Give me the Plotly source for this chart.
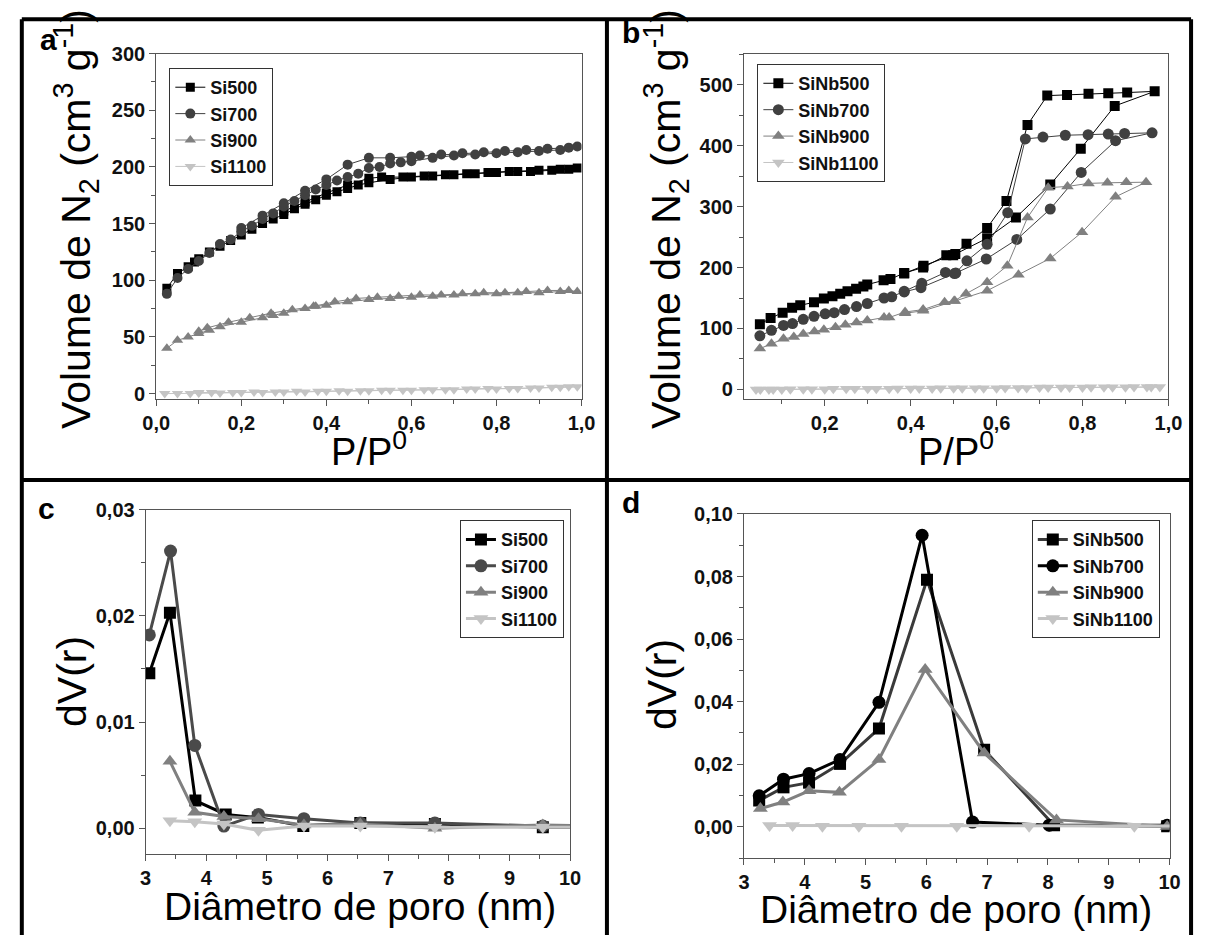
import plotly.graph_objects as go

W, H = 1208, 940

# ---------------- Panel a: Si isotherms ----------------
a_si500_x = [0.025,0.05,0.075,0.09,0.1,0.125,0.15,0.175,0.2,0.225,0.25,0.275,0.3,0.325,0.35,0.375,0.4,0.425,0.45,0.475,0.5,0.55,0.6,0.65,0.7,0.75,0.8,0.85,0.9,0.95,0.99,
             0.97,0.93,0.88,0.83,0.78,0.73,0.68,0.63,0.58,0.53,0.5,0.45,0.4,0.35,0.3]
a_si500_y = [93,106,112,116,119,125,130,135,140,145,150,154,158,163,167,171,175,178,181,184,186,189,191,192,193,194,195,196,197,198,199,
             198,197,196,196,195,194,193,192,191,191,190,184,177,169,161]
a_si700_x = [0.025,0.05,0.075,0.1,0.125,0.15,0.175,0.2,0.225,0.25,0.275,0.3,0.325,0.35,0.375,0.4,0.425,0.45,0.475,0.5,0.525,0.55,0.575,0.6,0.65,0.7,0.75,0.8,0.85,0.9,0.95,0.99,
             0.97,0.92,0.87,0.82,0.77,0.72,0.67,0.62,0.6,0.55,0.5,0.45,0.4,0.35,0.3,0.25,0.2]
a_si700_y = [88,102,110,117,124,132,136,143,148,154,159,165,170,175,180,184,188,191,194,199,200,203,204,205,208,210,211,212,213,214,215,218,
             217,216,215,214,213,212,211,210,209,208,208,202,189,179,168,157,146]
a_si900_x = [0.025,0.05,0.075,0.1,0.125,0.15,0.2,0.25,0.275,0.3,0.35,0.375,0.4,0.45,0.5,0.55,0.6,0.65,0.7,0.75,0.8,0.85,0.9,0.95,0.99,
             0.97,0.92,0.87,0.82,0.77,0.72,0.67,0.62,0.57,0.52,0.47,0.42,0.37,0.32,0.27,0.22,0.17,0.12,0.1]
a_si900_y = [40,47,50,53,56,59,63,67,69,71,75,77,78,81,83,84,85,86,87,88,88,89,89,90,90,
             91,91,90,89,89,88,87,87,86,85,84,81,77,74,71,67,63,58,55]
a_si1100_x = [0.02,0.05,0.08,0.1,0.15,0.2,0.25,0.3,0.35,0.4,0.45,0.5,0.55,0.6,0.65,0.7,0.75,0.8,0.85,0.9,0.95,0.99,
              0.97,0.93,0.88,0.83,0.78,0.73,0.68,0.63,0.58,0.53,0.48,0.43,0.38,0.33,0.28,0.23,0.18,0.13,0.1]
a_si1100_y = [0,0,0,0.5,0.5,1,1,1.5,1.5,2,2,2.5,3,3,3.5,3.5,4,4,4.5,5,5.5,6,
              6,5.5,5,4.5,4.5,4,3.5,3.5,3,3,2.5,2.5,2,2,1.5,1.5,1,1,1]

# ---------------- Panel b: SiNb isotherms ----------------
b_sinb500_x = [0.049,0.074,0.102,0.124,0.143,0.175,0.198,0.218,0.236,0.253,0.273,0.29,0.299,0.337,0.353,0.385,0.429,0.483,0.499,0.53,0.578,0.623,0.672,0.718,0.764,0.814,0.86,0.904,0.968,
               0.875,0.796,0.725,0.645,0.578,0.504,0.43,0.385]
b_sinb500_y = [107,117,126,134,138,143,149,153,157,161,165,169,172,179,181,191,200,220,220,239,265,309,434,482,483,485,486,487,489,
               465,395,336,282,248,222,203,190]
b_sinb700_x = [0.049,0.076,0.104,0.125,0.15,0.175,0.201,0.222,0.246,0.274,0.299,0.338,0.356,0.385,0.426,0.481,0.505,0.531,0.578,0.626,0.667,0.708,0.76,0.813,0.86,0.898,0.962,
               0.877,0.797,0.725,0.647,0.576,0.502,0.424,0.385]
b_sinb700_y = [88,97,105,108,115,120,124,126,131,136,141,150,152,161,174,192,191,211,238,290,411,414,417,418,419,420,421,
               408,356,296,246,214,190,167,160]
b_sinb900_x = [0.049,0.076,0.104,0.128,0.15,0.176,0.198,0.225,0.248,0.274,0.299,0.338,0.35,0.387,0.429,0.479,0.501,0.529,0.578,0.625,0.672,0.72,0.765,0.814,0.858,0.902,0.948,
               0.877,0.799,0.725,0.651,0.578,0.503,0.429,0.387]
b_sinb900_y = [67,75,83,86,91,95,98,102,106,110,113,118,118,127,131,143,145,157,176,203,282,331,333,338,339,340,340,
               316,258,215,188,162,145,129,125]
b_sinb1100_x = [0.04,0.07,0.1,0.15,0.2,0.25,0.3,0.35,0.4,0.45,0.5,0.55,0.6,0.65,0.7,0.75,0.8,0.85,0.9,0.95,0.98,
                0.96,0.92,0.87,0.82,0.77,0.72,0.67,0.62,0.57,0.52,0.47,0.42,0.37,0.32,0.27,0.22,0.17,0.12,0.08,0.05]
b_sinb1100_y = [0,0,0,0.5,0.5,1,1,1,1.5,1.5,2,2,2,2.5,3,3,3,3.5,3.5,4,4,
                4,4,3.5,3.5,3,3,2.5,2.5,2,2,2,1.5,1.5,1,1,1,0.5,0.5,0,0]

# ---------------- Panel c: Si pore size distribution ----------------
c_si500_x = [3.06,3.40,3.82,4.32,4.85,5.60,6.54,7.77,9.55,11.5]
c_si500_y = [0.0146,0.0203,0.0026,0.0013,0.0010,0.0002,0.0005,0.0004,0.0001,0.0001]
c_si700_x = [3.06,3.41,3.81,4.29,4.86,5.61,6.54,7.77,9.55,11.5]
c_si700_y = [0.0182,0.0261,0.0078,0.0002,0.0013,0.0009,0.0005,0.0005,0.0002,0.0002]
c_si900_x = [3.40,3.81,4.29,4.86,5.61,6.54,7.77,9.55,11.5]
c_si900_y = [0.0063,0.0015,0.0011,0.0009,0.0003,0.0004,0.0000,0.0003,0.0001]
c_si1100_x = [3.40,3.81,4.29,4.86,5.61,6.54,7.77,9.55,11.5]
c_si1100_y = [0.0007,0.0006,0.0004,-0.0002,0.0002,0.0002,0.0001,0.0001,0.0001]

# ---------------- Panel d: SiNb pore size distribution ----------------
d_sinb500_x = [3.25,3.65,4.07,4.58,5.22,6.01,6.95,8.10,9.96]
d_sinb500_y = [0.0084,0.0126,0.0141,0.0201,0.0314,0.0790,0.0246,0.0005,0.0002]
d_sinb700_x = [3.25,3.65,4.07,4.58,5.22,5.93,6.76,8.02,9.96]
d_sinb700_y = [0.0099,0.0152,0.0170,0.0215,0.0398,0.0932,0.0015,0.0005,0.0005]
d_sinb900_x = [3.27,3.64,4.07,4.57,5.22,5.98,6.95,8.14,9.96]
d_sinb900_y = [0.0058,0.0079,0.0115,0.0110,0.0215,0.0503,0.0236,0.0022,0.0001]
d_sinb1100_x = [3.42,3.80,4.29,4.89,5.59,6.50,7.69,9.42,11.5]
d_sinb1100_y = [0.0004,0.0004,0.0002,0.0002,0.0002,0.0002,0.0002,0.0002,0.0002]

FONT = "Liberation Sans, Arial, sans-serif"
C1, C2, C3, C4 = "#000000", "#404040", "#808080", "#c4c4c4"

fig = go.Figure()

def add(x, y, name, color, symbol, xa, ya, legend, size, lw, lcolor=None):
    fig.add_trace(go.Scatter(
        x=x, y=y, name=name, mode="lines+markers",
        xaxis=xa, yaxis=ya, legend=legend,
        line=dict(color=lcolor or color, width=lw),
        marker=dict(color=color, symbol=symbol, size=size, line=dict(width=0)),
    ))

add(a_si500_x, a_si500_y, "Si500", C1, "square", "x", "y", "legend", 9, 1)
add(a_si700_x, a_si700_y, "Si700", C2, "circle", "x", "y", "legend", 10, 1)
add(a_si900_x, a_si900_y, "Si900", C3, "triangle-up", "x", "y", "legend", 10, 1)
add(a_si1100_x, a_si1100_y, "Si1100", C4, "triangle-down", "x", "y", "legend", 10, 1)

add(b_sinb500_x, b_sinb500_y, "SiNb500", C1, "square", "x2", "y2", "legend2", 10, 1)
add(b_sinb700_x, b_sinb700_y, "SiNb700", C2, "circle", "x2", "y2", "legend2", 11, 1)
add(b_sinb900_x, b_sinb900_y, "SiNb900", C3, "triangle-up", "x2", "y2", "legend2", 11, 1)
add(b_sinb1100_x, b_sinb1100_y, "SiNb1100", C4, "triangle-down", "x2", "y2", "legend2", 11, 1)

add(c_si500_x, c_si500_y, "Si500", C1, "square", "x3", "y3", "legend3", 12, 3)
add(c_si700_x, c_si700_y, "Si700", "#4a4a4a", "circle", "x3", "y3", "legend3", 13, 3)
add(c_si900_x, c_si900_y, "Si900", C3, "triangle-up", "x3", "y3", "legend3", 13, 3)
add(c_si1100_x, c_si1100_y, "Si1100", C4, "triangle-down", "x3", "y3", "legend3", 13, 3)

add(d_sinb500_x, d_sinb500_y, "SiNb500", C1, "square", "x4", "y4", "legend4", 12, 3, lcolor="#3a3a3a")
add(d_sinb700_x, d_sinb700_y, "SiNb700", C1, "circle", "x4", "y4", "legend4", 13, 3)
add(d_sinb900_x, d_sinb900_y, "SiNb900", C3, "triangle-up", "x4", "y4", "legend4", 13, 3)
add(d_sinb1100_x, d_sinb1100_y, "SiNb1100", C4, "triangle-down", "x4", "y4", "legend4", 13, 3)

def px_x(p):
    return p / W

def px_y(p):
    return 1 - p / H

tickfont = dict(family=FONT, size=20, color="#111", weight="bold")
axcommon = dict(showline=True, mirror=True, linecolor="#555", linewidth=1,
                ticks="outside", ticklen=6, tickwidth=1, tickcolor="#555",
                showgrid=False, zeroline=False, tickfont=tickfont)

def xax(domain, anchor, rng, dtick, fmt, minor, tick0=0):
    d = dict(axcommon)
    d.update(domain=domain, anchor=anchor, range=rng, dtick=dtick, tick0=tick0,
             tickformat=fmt,
             minor=dict(dtick=minor, ticks="outside", ticklen=4, tickcolor="#555"))
    return d

fig.update_layout(
    width=W, height=H, margin=dict(l=0, r=0, t=0, b=0),
    paper_bgcolor="white", plot_bgcolor="white",
    separators=",.",
    font=dict(family=FONT, color="#111"),
    xaxis=xax([px_x(145.6), px_x(581)], "y", [0, 1], 0.2, ".1f", 0.1),
    yaxis=xax([px_y(395), px_y(43.3)], "x", [-5, 300], 50, "d", 25),
    xaxis2=xax([px_x(747.3), px_x(1181.8)], "y2", [0.012, 1.0], 0.2, ".1f", 0.1),
    yaxis2=xax([px_y(394.3), px_y(43.3)], "x2", [-15, 551], 100, "d", 50),
    xaxis3=xax([px_x(134.8), px_x(569.3)], "y3", [3, 10], 1, "d", 0.5),
    yaxis3=xax([px_y(857.3), px_y(507.3)], "x3", [-0.0024, 0.03], 0.01, ".2f", 0.005),
    xaxis4=xax([px_x(747.3), px_x(1183)], "y4", [3, 10], 1, "d", 0.5),
    yaxis4=xax([px_y(861.7), px_y(511.7)], "x4", [-0.01, 0.10], 0.02, ".2f", 0.01),
)

legfont = dict(family=FONT, size=18, color="#111", weight="bold")
legcommon = dict(font=legfont, bordercolor="#333", borderwidth=1, bgcolor="white",
                 tracegroupgap=0, itemsizing="trace")
fig.update_layout(
    legend=dict(legcommon, x=px_x(159), y=px_y(58), xanchor="left", yanchor="top"),
    legend2=dict(legcommon, x=px_x(761), y=px_y(54), xanchor="left", yanchor="top"),
    legend3=dict(legcommon, x=px_x(563), y=px_y(518), xanchor="right", yanchor="top"),
    legend4=dict(legcommon, x=px_x(1173), y=px_y(518), xanchor="right", yanchor="top"),
)

ann = []
def label(text, x, y, size, angle=0, bold=False):
    ann.append(dict(text=text, x=px_x(x), y=px_y(y), xref="paper", yref="paper",
                    showarrow=False, textangle=angle, xanchor="center", yanchor="middle",
                    font=dict(family=FONT, size=size, color="#000",
                              weight="bold" if bold else "normal")))

ytitle_iso = "Volume de N<sub>2</sub> (cm<sup>3</sup> g<sup>-1</sup>)"
label(ytitle_iso, 64, 212, 41, -90)
label(ytitle_iso, 668, 212, 41, -90)
label("P/P<sup>0</sup>", 363, 446, 38)
label("P/P<sup>0</sup>", 964, 446, 38)
label("dV(r)", 60, 682, 41, -90)
label("dV(r)", 664, 685, 41, -90)
label("Diâmetro de poro (nm)", 354, 911, 39)
label("Diâmetro de poro (nm)", 964, 914, 39)
label("a", 35, 29, 30, bold=True)
label("b", 632, 22, 30, bold=True)
label("c", 33, 506, 30, bold=True)
label("d", 632, 500, 30, bold=True)
fig.update_layout(annotations=ann)

# Panel frame lines
shapes = []
def seg(x0, y0, x1, y1, w=4):
    shapes.append(dict(type="line", xref="paper", yref="paper",
                       x0=px_x(x0), y0=px_y(y0), x1=px_x(x1), y1=px_y(y1),
                       line=dict(color="#000", width=w)))
seg(8, 8.5, 1205, 8.5)
seg(8, 8.5, 8, 940)
seg(1205, 8.5, 1205, 940)
seg(607, 8.5, 607, 940)
seg(8, 477, 1205, 477)
fig.update_layout(shapes=shapes)

fig.write_html("out.html",
               config={"displayModeBar": False, "staticPlot": True},
               post_script="document.body.style.margin='0';document.body.style.overflow='hidden';")
